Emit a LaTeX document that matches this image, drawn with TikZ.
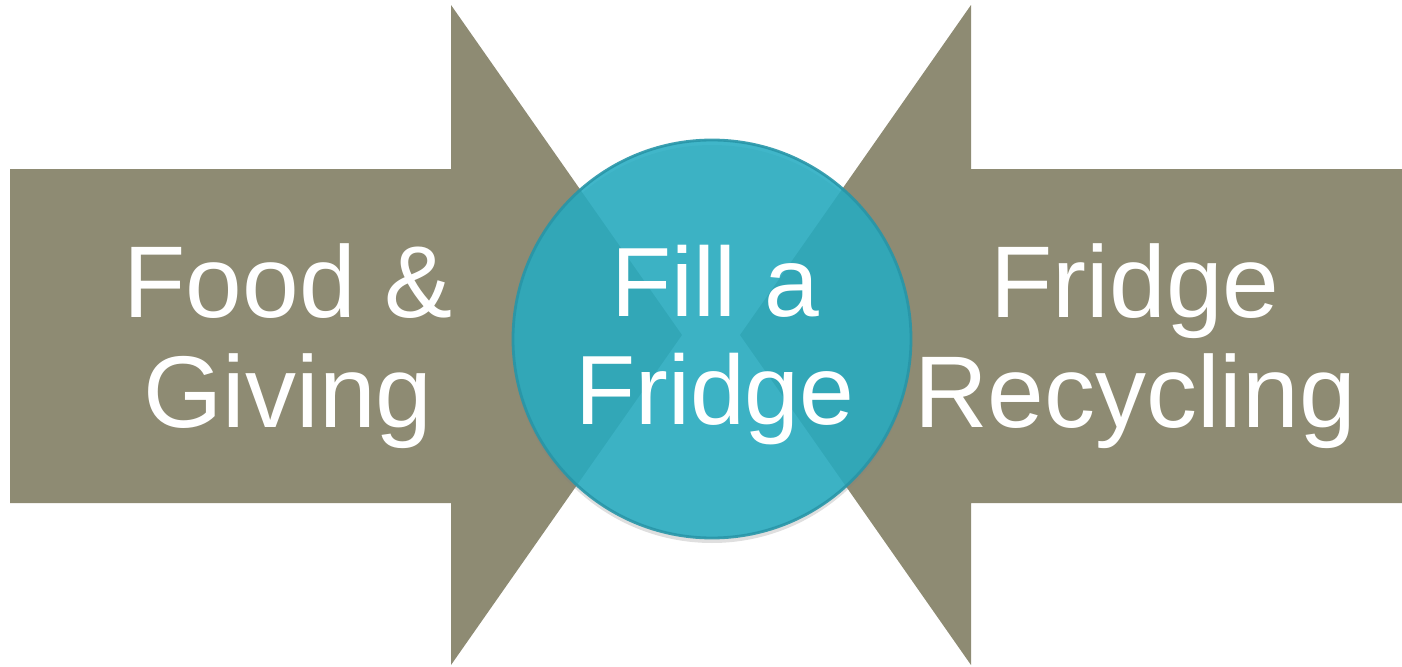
\documentclass[tikz,border=0pt]{standalone}
\usepackage{fontspec}
\setmainfont{Liberation Sans}
\usepackage{xcolor}
\usepackage{tikz}
\usetikzlibrary{positioning,shadows}

\definecolor{olive}{RGB}{142,139,115}
\definecolor{hubteal}{RGB}{38,172,193}
\definecolor{hubrim}{RGB}{40,150,168}

\begin{document}
\begin{tikzpicture}[
label/.style={text=white,align=center,font=\fontsize{29}{31.3}\selectfont,inner sep=0pt},
hub/.style={circle,minimum size=3.98cm,fill=hubteal,fill opacity=.88,draw=hubrim,draw opacity=.9,line width=.8pt,text opacity=1,
  drop shadow={opacity=.25,shadow xshift=0cm,shadow yshift=-.05cm}},
block/.style={fill=olive}
]
\useasboundingbox (0,0) rectangle (14.02,6.66);
% left arrow
\fill[block] (0.10,1.63) -- (0.10,4.97) -- (4.51,4.97) -- (4.51,6.61) -- (6.82,3.31)
  -- (4.51,0.01) -- (4.51,1.63) -- cycle;
% right arrow
\fill[block] (14.02,1.63) -- (14.02,4.97) -- (9.71,4.97) -- (9.71,6.61) -- (7.40,3.31)
  -- (9.71,0.01) -- (9.71,1.63) -- cycle;
\node[hub] (fridge) at (7.12,3.27) {};
\node[label,font=\fontsize{28}{30.8}\selectfont] (fill) at (7.15,3.21) {Fill a\\Fridge};
\node[label] (food) at (2.88,3.20) {Food \&\\Giving};
\node[label] (recycle) at (11.35,3.20) {Fridge\\Recycling};
\end{tikzpicture}
\end{document}
